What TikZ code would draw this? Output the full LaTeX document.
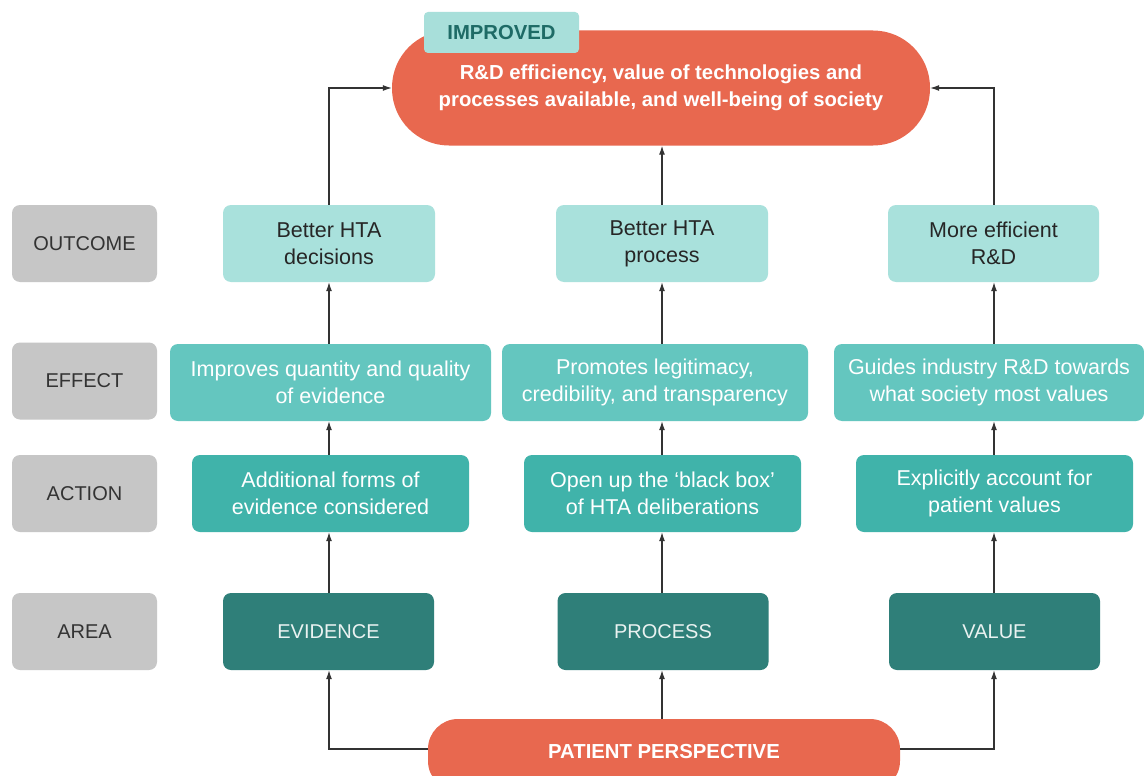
\documentclass[tikz,border=0pt]{standalone}
\usepackage{fontspec}
\setmainfont{Liberation Sans}
\usetikzlibrary{arrows.meta}
\definecolor{orangeC}{HTML}{E8684F}
\definecolor{tabC}{HTML}{A8DFDA}
\definecolor{tabText}{HTML}{1E6B66}
\definecolor{outC}{HTML}{A9E1DC}
\definecolor{effC}{HTML}{64C6BF}
\definecolor{actC}{HTML}{40B3AA}
\definecolor{areaC}{HTML}{2F7F79}
\definecolor{greyC}{HTML}{C6C6C6}
\definecolor{lineC}{HTML}{333333}
\tikzset{
  box/.style={rounded corners=8pt, align=center, inner sep=0pt, font=\fontsize{21.5}{27}\selectfont},
  capsfont/.style={font=\fontsize{20}{24}\selectfont},
  lbl/.style={box, capsfont, fill=greyC, text=black!80, minimum width=145pt, minimum height=77pt},
  outbox/.style={box, fill=outC, text=black!85, minimum width=212pt, minimum height=77pt},
  effbox/.style={box, fill=effC, text=white, minimum height=77pt},
  actbox/.style={box, fill=actC, text=white, minimum width=277pt, minimum height=77pt},
  areabox/.style={box, capsfont, fill=areaC, text=white!90!areaC, minimum width=211pt, minimum height=77pt},
  pill/.style={fill=orangeC, text=white, align=center, inner sep=0pt, font=\bfseries\fontsize{20.3}{27}\selectfont},
  conn/.style={draw=lineC, line width=1.1pt, -{Latex[length=9pt,width=6pt]}},
}
\begin{document}
\begin{tikzpicture}[x=1pt,y=-1pt]
\useasboundingbox[fill=white] (0,0) rectangle (1144,776);

% top pill
\node[pill, rounded corners=57pt, minimum width=538pt, minimum height=115pt] (top) at (661,88)
  {R\&D efficiency, value of technologies and\\processes available, and well-being of society};
\node[rounded corners=4pt, fill=tabC, text=tabText, inner sep=0pt, minimum width=155pt, minimum height=41pt,
  font=\bfseries\fontsize{20.3}{24}\selectfont] (tab) at (501.5,32.5) {IMPROVED};

% left labels
\node[lbl] (lOut) at (84.5,243.5) {OUTCOME};
\node[lbl] (lEff) at (84.5,381) {EFFECT};
\node[lbl] (lAct) at (84.5,493.5) {ACTION};
\node[lbl] (lArea) at (84.5,631.5) {AREA};

% column 1
\node[outbox] (o1) at (329,243.5) {Better HTA\\decisions};
\node[effbox, minimum width=321pt] (e1) at (330.5,382.5) {Improves quantity and quality\\of evidence};
\node[actbox] (a1) at (330.5,493.5) {Additional forms of\\evidence considered};
\node[areabox] (r1) at (328.5,631.5) {EVIDENCE};

% column 2
\node[outbox] (o2) at (662,243.5) {Better HTA\\process};
\node[effbox, minimum width=306pt] (e2) at (655,382.5) {Promotes legitimacy,\\credibility, and transparency};
\node[actbox] (a2) at (662.5,493.5) {Open up the `black box'\\of HTA deliberations};
\node[areabox] (r2) at (663,631.5) {PROCESS};

% column 3
\node[outbox, minimum width=211pt] (o3) at (993.5,243.5) {More efficient\\R\&D};
\node[effbox, minimum width=310pt] (e3) at (989,382.5) {Guides industry R\&D towards\\what society most values};
\node[actbox] (a3) at (994.5,493.5) {Explicitly account for\\patient values};
\node[areabox] (r3) at (994.5,631.5) {VALUE};

% bottom pill (runs past the lower edge)
\node[pill, rounded corners=30pt, minimum width=472pt, minimum height=72pt] (pp) at (664,755)
  {\raisebox{7pt}{PATIENT PERSPECTIVE}};

% vertical connectors
\coordinate (c1) at (329,0);
\coordinate (c2) at (662,0);
\coordinate (c3) at (994,0);
\coordinate (ppl) at (pp.west |- 0,749);
\coordinate (ppr) at (pp.east |- 0,749);

\draw[conn] (ppl) -| (c1 |- r1.south);
\draw[conn] (pp.north -| c2) -- (c2 |- r2.south);
\draw[conn] (ppr) -| (c3 |- r3.south);

\foreach \c/\lo/\hi in {c1/r1/a1, c1/a1/e1, c1/e1/o1, c2/r2/a2, c2/a2/e2, c2/e2/o2, c3/r3/a3, c3/a3/e3, c3/e3/o3}{
  \draw[conn] (\c |- \lo.north) -- (\c |- \hi.south);
}
\draw[conn] (c2 |- o2.north) -- (c2 |- top.south);
\draw[conn] (c1 |- o1.north) |- (top.west);
\draw[conn] (c3 |- o3.north) |- (top.east);
\end{tikzpicture}
\end{document}
